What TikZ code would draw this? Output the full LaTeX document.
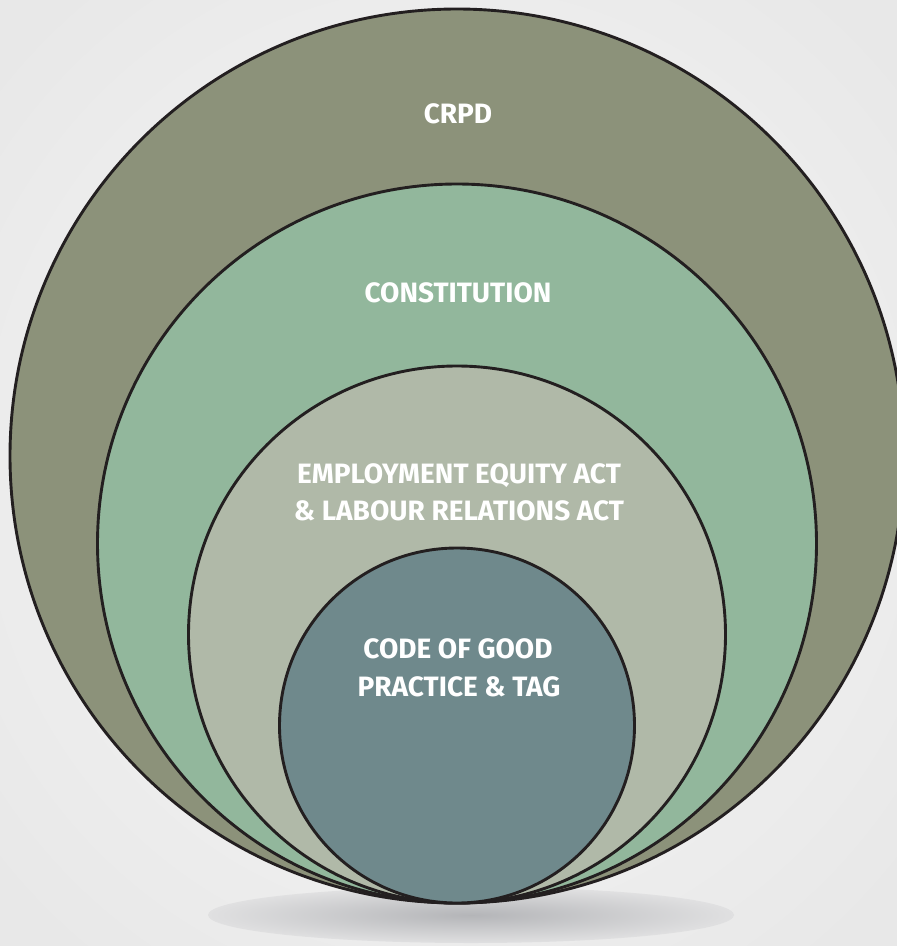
\documentclass[tikz,border=0pt]{standalone}
\usepackage{fontspec}
\setmainfont{Fira Sans}
\definecolor{crpd}{RGB}{140,146,122}
\definecolor{cons}{RGB}{146,183,156}
\definecolor{eea}{RGB}{176,185,168}
\definecolor{code}{RGB}{111,137,140}
\definecolor{ink}{RGB}{35,31,32}
\definecolor{bgin}{RGB}{248,248,248}
\definecolor{bgout}{RGB}{232,232,232}
\definecolor{shin}{RGB}{180,181,184}
\definecolor{shout}{RGB}{224,224,225}
\tikzset{
  ring/.style={draw=ink, line width=2.9pt},
  lbl/.style={text=white, font=\bfseries\fontsize{28}{37}\selectfont, align=center, inner sep=0pt, anchor=base}
}
\begin{document}
\begin{tikzpicture}[x=1pt,y=-1pt]
\useasboundingbox (0,0) rectangle (897,946);
\clip (0,0) rectangle (897,946);
\shade[inner color=bgin, outer color=bgout] (-150,-150) rectangle (1047,1096);
\shade[inner color=shin, outer color=shout] (471,915) ellipse [x radius=263pt, y radius=28pt];
\coordinate (c1) at (457,456);
\coordinate (c2) at (457,543.5);
\coordinate (c3) at (457,634.5);
\coordinate (c4) at (457,725.5);
\path[ring, fill=crpd] (c1) circle [radius=447pt];
\path[ring, fill=cons] (c2) circle [radius=359.5pt];
\path[ring, fill=eea] (c3) circle [radius=268.5pt];
\path[ring, fill=code] (c4) circle [radius=177.5pt];
\node[lbl] (t1) at (458,123) {CRPD};
\node[lbl] (t2) at (458,302) {CONSTITUTION};
\node[lbl] (t3) at (459,483) {EMPLOYMENT EQUITY ACT};
\node[lbl] (t3b) at (459,520) {\& LABOUR RELATIONS ACT};
\node[lbl] (t4) at (458,658) {CODE OF GOOD};
\node[lbl] (t4b) at (459,696) {PRACTICE \& TAG};
\end{tikzpicture}
\end{document}
